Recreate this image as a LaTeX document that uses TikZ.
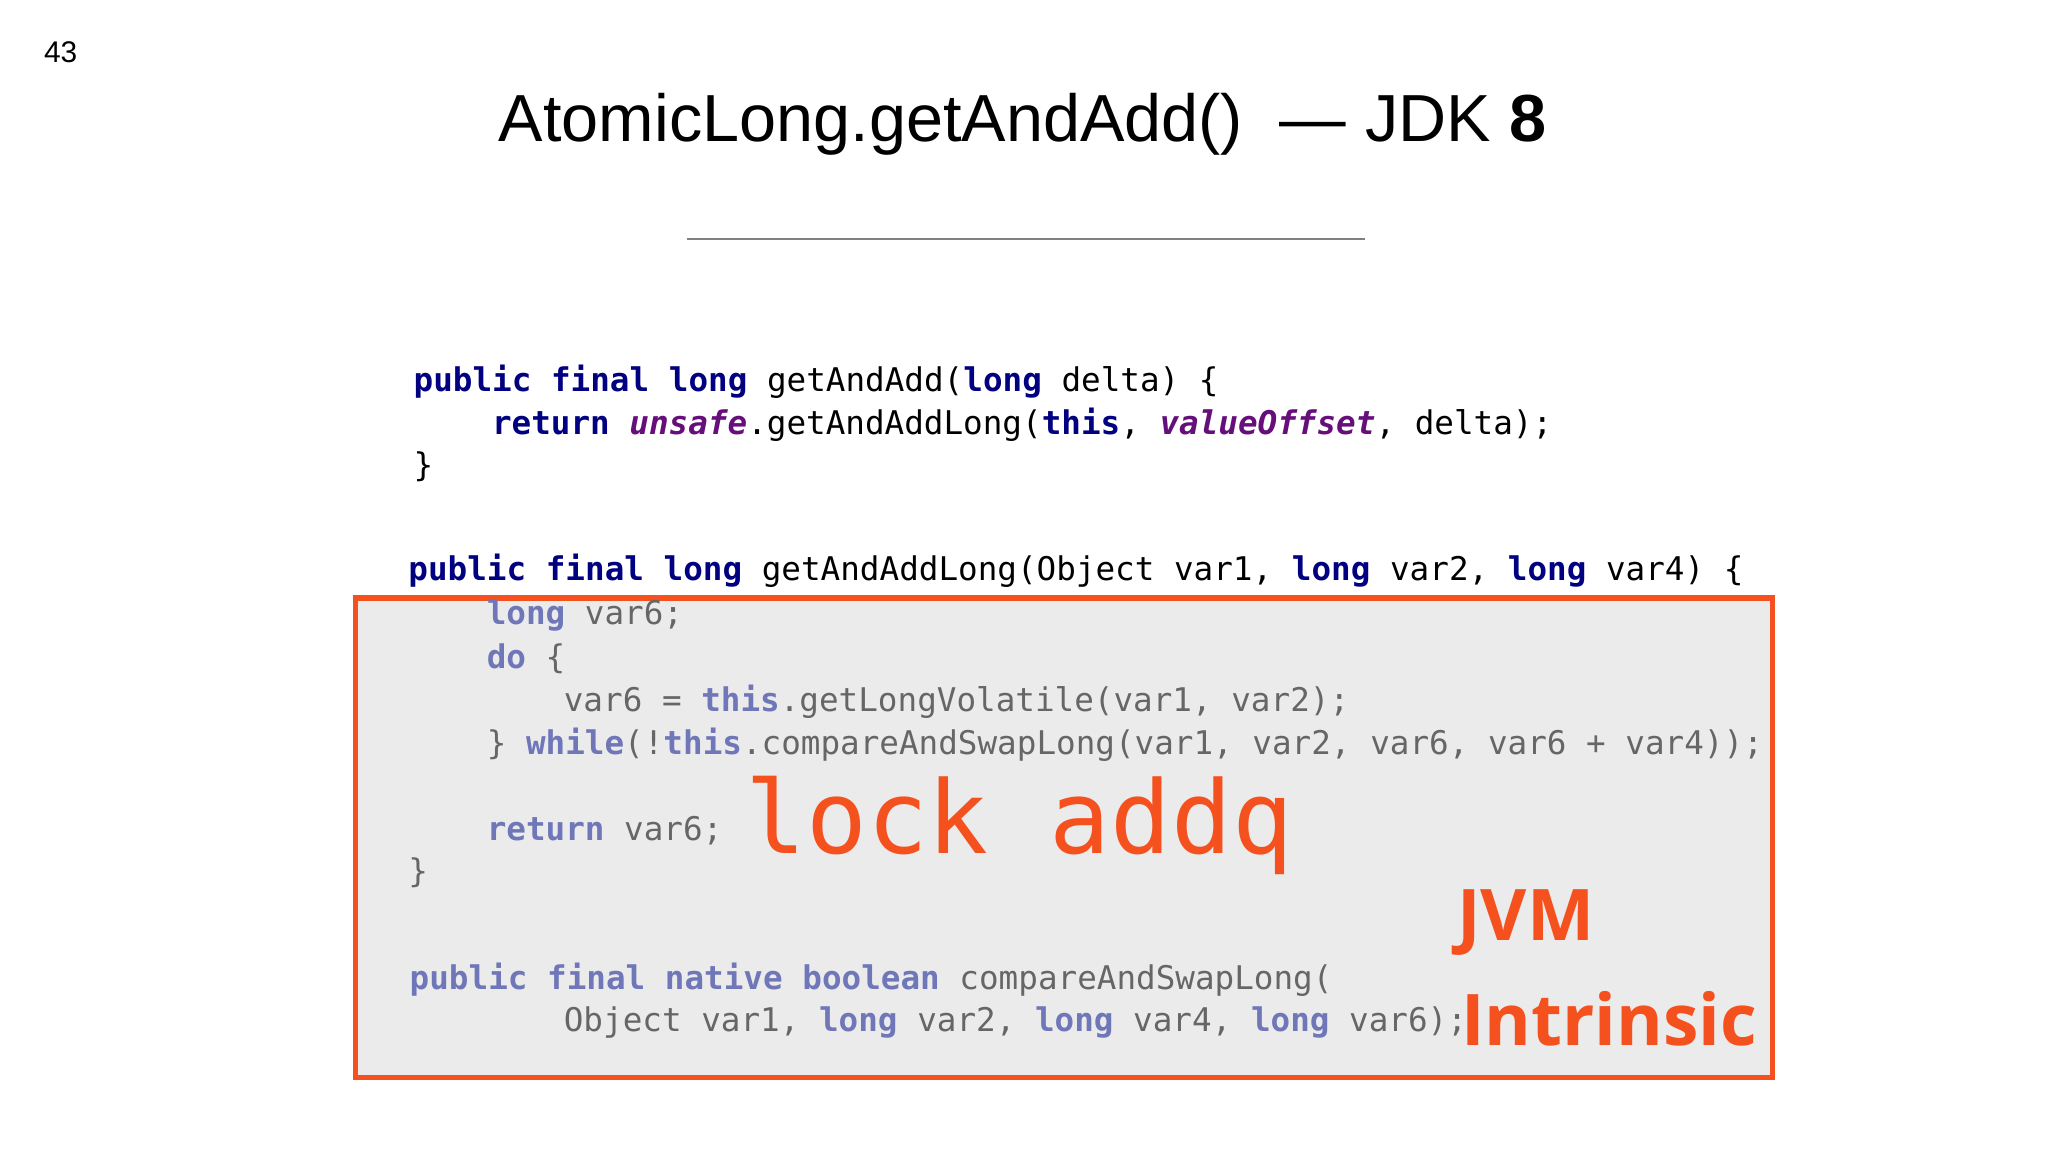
\documentclass[tikz,border=0pt]{standalone}
\usepackage{fontspec}
\setmainfont{Liberation Sans}
\setmonofont{DejaVu Sans Mono}
\newfontfamily\bigsans{Open Sans}
\definecolor{kw}{HTML}{000080}
\definecolor{pu}{HTML}{660E7A}
\definecolor{fkw}{HTML}{6F77B8}
\definecolor{ftx}{HTML}{666666}
\definecolor{org}{HTML}{F4511E}
\newcommand{\kwK}[1]{\textcolor{kw}{\bfseries #1}}
\newcommand{\kwP}[1]{\textcolor{pu}{\bfseries\itshape #1}}
\newcommand{\kwF}[1]{\textcolor{fkw}{\bfseries #1}}
\begin{document}
\begin{tikzpicture}[x=0.01cm,y=-0.01cm,
  code/.style={anchor=west,inner sep=0,font=\ttfamily\fontsize{7.1}{8}\selectfont},
  fcode/.style={code,text=ftx}]
\useasboundingbox (0,0) rectangle (1568,882);
\fill[white] (0,0) rectangle (1568,882);
\node[anchor=west,inner sep=0,font=\fontsize{6.5}{8}\selectfont] (pg) at (33,40) {43};
\node[inner sep=0,font=\fontsize{14.5}{17}\selectfont] (title) at (783,95) {AtomicLong.getAndAdd()\ \ — JDK \textbf{8}};
\coordinate (l1) at (526,183); \coordinate (l2) at (1045,183);
\draw[gray,line width=0.6pt] (l1) -- (l2);
\node[code] (c1) at (316,292) {\kwK{public} \kwK{final} \kwK{long} getAndAdd(\kwK{long} delta) \{};
\node[code] (c2) at (376,325) {\kwK{return} \kwP{unsafe}.getAndAddLong(\kwK{this}, \kwP{valueOffset}, delta);};
\node[code] (c3) at (316,357) {\}};
\node[code] (d1) at (312,437) {\kwK{public} \kwK{final} \kwK{long} getAndAddLong(Object var1, \kwK{long} var2, \kwK{long} var4) \{};
\fill[gray!16,draw=org,line width=1.2pt] (272,458) rectangle (1357,825);
\node[fcode] (d2) at (372,471) {\kwF{long} var6;};
\node[fcode] (d3) at (372,504) {\kwF{do} \{};
\node[fcode] (d4) at (431,537) {var6 = \kwF{this}.getLongVolatile(var1, var2);};
\node[fcode] (d5) at (372,570) {\} \kwF{while}(!\kwF{this}.compareAndSwapLong(var1, var2, var6, var6 + var4));};
\node[fcode] (d6) at (372,636) {\kwF{return} var6;};
\node[fcode] (d7) at (312,668) {\}};
\node[fcode] (e1) at (313,750) {\kwF{public} \kwF{final} \kwF{native} \kwF{boolean} compareAndSwapLong(};
\node[fcode] (e2) at (431,783) {Object var1, \kwF{long} var2, \kwF{long} var4, \kwF{long} var6);};
\node[anchor=west,inner sep=0,text=org,font=\ttfamily\fontsize{22}{24}\selectfont] (lk) at (570,632) {lock\ addq};
\node[anchor=west,inner sep=0,text=org,font=\bigsans\bfseries\fontsize{15.5}{18}\selectfont] (jvm) at (1115,706) {JVM};
\node[anchor=west,inner sep=0,text=org,font=\bigsans\bfseries\fontsize{15.5}{18}\selectfont] (intr) at (1118,780) {Intrinsic};
\end{tikzpicture}
\end{document}
